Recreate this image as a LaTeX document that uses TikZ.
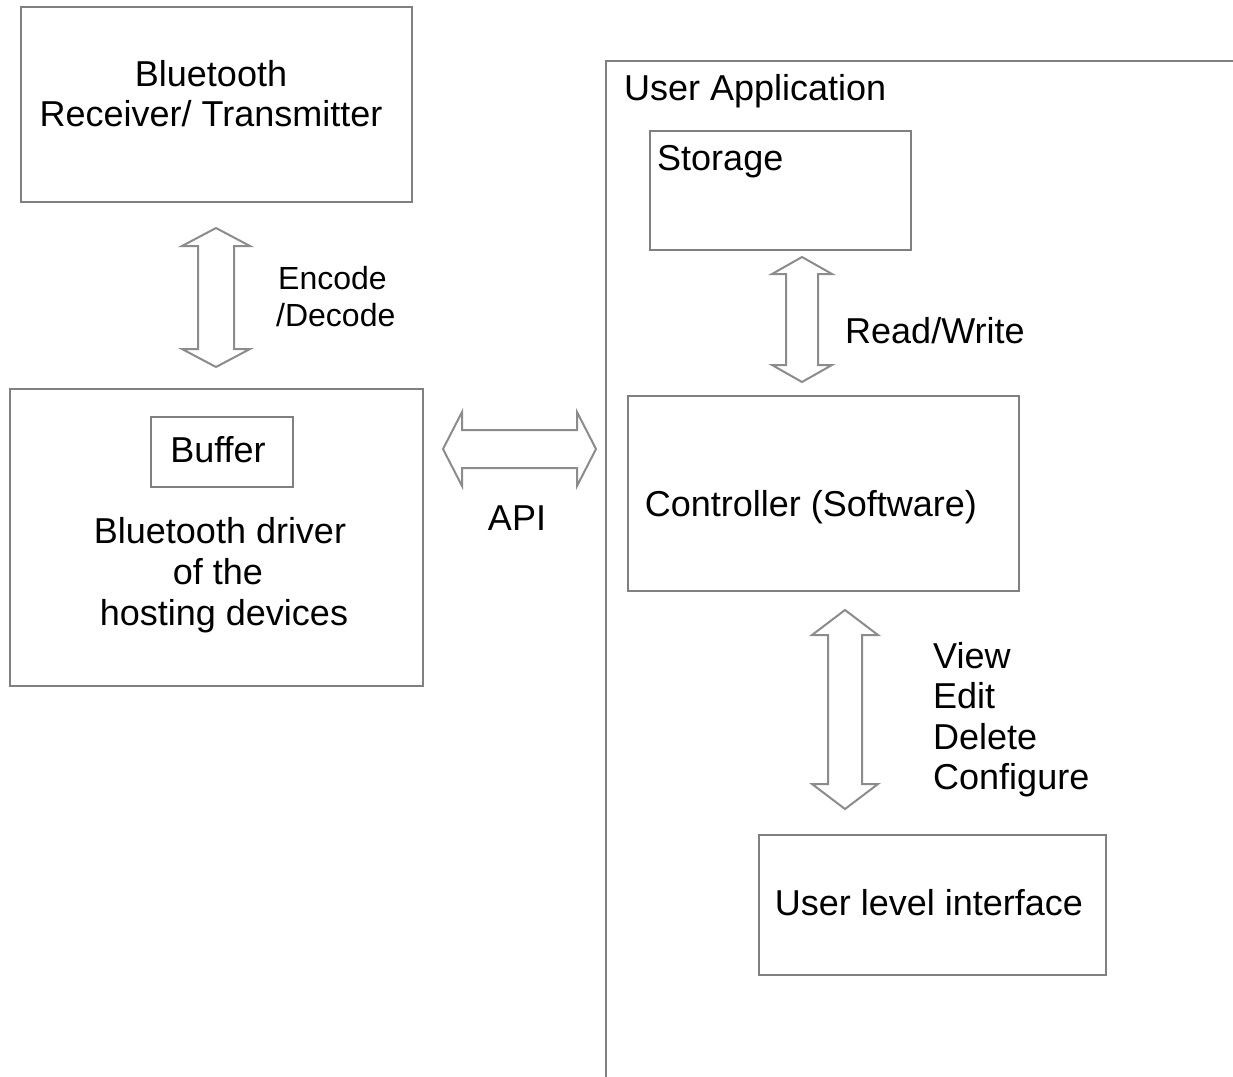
\documentclass[tikz,border=0pt]{standalone}
\usepackage{fontspec}
\setmainfont{Liberation Sans}
\definecolor{edge}{RGB}{128,128,128}
\definecolor{arrowedge}{RGB}{140,140,140}
\newcommand{\vdarrow}[6]{%
  \draw[blockarrow] (#1,#2) -- (#1+#4,#2+#6) -- (#1+#5,#2+#6) -- (#1+#5,#3-#6) -- (#1+#4,#3-#6) -- (#1,#3)
    -- (#1-#4,#3-#6) -- (#1-#5,#3-#6) -- (#1-#5,#2+#6) -- (#1-#4,#2+#6) -- cycle;}
\newcommand{\hdarrow}[6]{%
  \draw[blockarrow] (#2,#1) -- (#2+#6,#1-#4) -- (#2+#6,#1-#5) -- (#3-#6,#1-#5) -- (#3-#6,#1-#4) -- (#3,#1)
    -- (#3-#6,#1+#4) -- (#3-#6,#1+#5) -- (#2+#6,#1+#5) -- (#2+#6,#1+#4) -- cycle;}
\begin{document}
\begin{tikzpicture}[x=1pt,y=-1pt,
  box/.style={draw=edge,line width=2pt,inner sep=0pt,anchor=north west},
  blockarrow/.style={draw=arrowedge,line width=2pt,line join=miter,fill=white},
  txt/.style={inner sep=0pt,font=\fontsize{36}{41}\selectfont},
  smalltxt/.style={inner sep=0pt,font=\fontsize{32}{37}\selectfont}]
\useasboundingbox[fill=white] (0,0) rectangle (1233,1076);

% left side boxes
\node[box,minimum width=391pt,minimum height=195pt] (btrx) at (20,6) {};
\node[txt,anchor=base] (btrxt1) at (211,86) {Bluetooth};
\node[txt,anchor=base] (btrxt2) at (211,126) {Receiver/ Transmitter};

\node[box,minimum width=413pt,minimum height=297pt] (drv) at (9,388) {};
\node[box,minimum width=142pt,minimum height=70pt] (buf) at (150,416) {};
\node[txt,anchor=base] (buft) at (218,462) {Buffer};
\node[txt,anchor=base] (drvt1) at (220,543) {Bluetooth driver};
\node[txt,anchor=base] (drvt2) at (218,584) {of the};
\node[txt,anchor=base] (drvt3) at (224,625) {hosting devices};

% user application frame
\coordinate (uaBL) at (606,1080);
\coordinate (uaTL) at (606,61);
\coordinate (uaTR) at (1240,61);
\draw[draw=edge,line width=2pt] (uaBL) -- (uaTL) -- (uaTR);
\node[txt,anchor=base west] (uat) at (624,100) {User Application};

\node[box,minimum width=261pt,minimum height=119pt] (stor) at (649,130) {};
\node[txt,anchor=base west] (stort) at (657,170) {Storage};

\node[box,minimum width=391pt,minimum height=195pt] (ctrl) at (627,395) {};
\node[txt,anchor=base] (ctrlt) at (811,516) {Controller (Software)};

\node[box,minimum width=347pt,minimum height=140pt] (uli) at (758,834) {};
\node[txt,anchor=base] (ulit) at (929,915) {User level interface};

% block arrows
\vdarrow{216}{228}{367}{34}{18}{18}
\vdarrow{802}{257}{382}{30}{16}{17}
\vdarrow{845}{610}{809}{33}{17}{25}
\hdarrow{449}{443}{596}{37}{19}{19}

% labels
\node[smalltxt,anchor=base west] (enc1) at (278,289) {Encode};
\node[smalltxt,anchor=base west] (enc2) at (276,326) {/Decode};
\node[txt,anchor=base west] (rw) at (845,343) {Read/Write};
\node[txt,anchor=base] (api) at (517,530) {API};
\node[txt,anchor=base west] (v1) at (933,668) {View};
\node[txt,anchor=base west] (v2) at (933,708) {Edit};
\node[txt,anchor=base west] (v3) at (933,749) {Delete};
\node[txt,anchor=base west] (v4) at (933,789) {Configure};
\end{tikzpicture}
\end{document}
